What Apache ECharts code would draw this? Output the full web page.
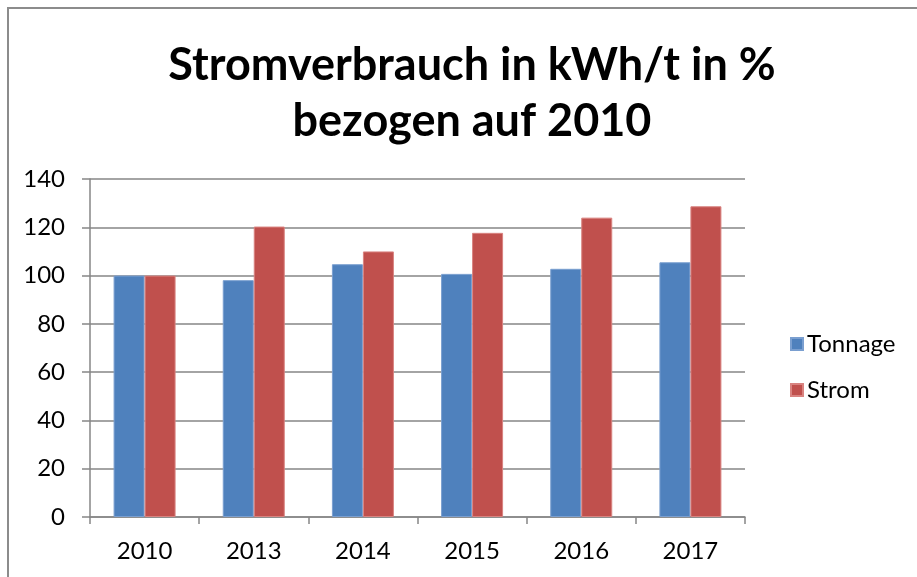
<!DOCTYPE html>
<html lang="de">
<head>
	<meta charset="UTF-8">
	<title>Stromverbrauch</title>
	<script src="https://cdn.jsdelivr.net/npm/echarts@6/dist/echarts.min.js"></script>
	<style>
		html,body{margin:0;padding:0;background:#fff;}
		#frame{position:absolute;left:7px;top:7px;width:1000px;height:700px;border-top:2px solid #8c8c8c;border-left:2px solid #8c8c8c;}
		#chart{position:absolute;left:0;top:0;width:917px;height:577px;}
	</style>
</head>
<body>
<div id="frame"></div>
<div id="chart"></div>
<script>
	// Kategorien und Werte
	var years = ['2010','2013','2014','2015','2016','2017'];
	var tonnage = [100, 98.1, 104.7, 100.7, 102.8, 105.5];
	var strom = [100, 120.3, 110, 117.7, 124, 128.7];
	var yTicks = {min:0, max:140, interval:20};

	var font = 'Lato, "Open Sans", sans-serif';
	var myChart = echarts.init(document.getElementById('chart'));
	var option = {
		backgroundColor:'transparent',
		animation:false,
		title:{
			text:'Stromverbrauch in kWh/t in %\nbezogen auf 2010',
			left:467,
			top:32,
			textAlign:'center',
			textStyle:{fontFamily:font,fontSize:45,fontWeight:'bold',color:'#000',lineHeight:56}
		},
		legend:{
			orient:'vertical',
			left:785,
			top:327,
			itemWidth:12,
			itemHeight:12,
			itemGap:22,
			icon:'rect',
			textStyle:{fontFamily:font,fontSize:24,color:'#000',padding:[0,0,0,-1]},
			data:['Tonnage','Strom']
		},
		grid:{left:90,right:172,top:179,bottom:60},
		xAxis:{
			type:'category',
			data:years,
			axisLine:{lineStyle:{color:'#868686',width:1.5}},
			axisTick:{show:true,length:7,lineStyle:{color:'#868686',width:1.5}},
			axisLabel:{fontFamily:font,fontSize:24,color:'#000',margin:22}
		},
		yAxis:{
			type:'value',
			min:yTicks.min,
			max:yTicks.max,
			interval:yTicks.interval,
			axisLine:{show:true,lineStyle:{color:'#868686',width:1.5}},
			axisTick:{show:true,length:8,lineStyle:{color:'#868686',width:1.5}},
			splitLine:{lineStyle:{color:'#868686',width:1.5}},
			axisLabel:{fontFamily:font,fontSize:24,color:'#000',margin:25}
		},
		series:[
			{name:'Tonnage',type:'bar',data:tonnage,barWidth:31,barGap:'0%',
				itemStyle:{color:'#4F81BD',borderColor:'#7a9fd0',borderWidth:1}},
			{name:'Strom',type:'bar',data:strom,barWidth:31,barGap:'0%',
				itemStyle:{color:'#C0504D',borderColor:'#d98380',borderWidth:1}}
		]
	};
	myChart.setOption(option);
</script>
</body>
</html>
